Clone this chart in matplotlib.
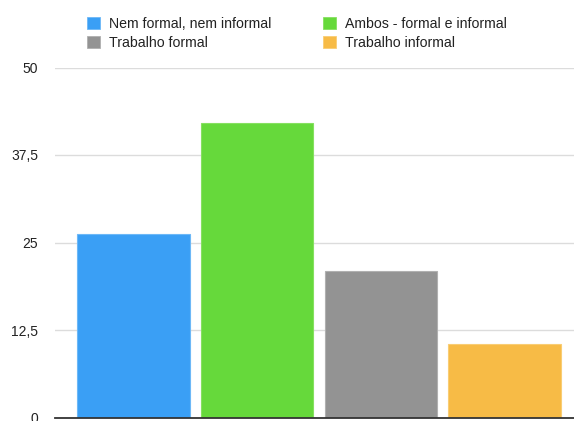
import matplotlib
matplotlib.use('Agg')
import matplotlib.pyplot as plt
from matplotlib.patches import Patch
from matplotlib.ticker import FixedLocator, FixedFormatter

plt.rcParams['font.family'] = ['Liberation Sans', 'DejaVu Sans']

categories = ['Nem formal, nem informal', 'Ambos - formal e informal',
              'Trabalho formal', 'Trabalho informal']
values = [26.2, 42.1, 21.0, 10.5]
colors = ['#3a9ff5', '#66d93b', '#939393', '#f7bb46']
edges = ['#6db8f7', '#86e060', '#b0b0b0', '#f9cd74']
yticks = [0, 12.5, 25, 37.5, 50]
ytick_labels = ['0', '12,5', '25', '37,5', '50']

fig = plt.figure(figsize=(5.74, 4.21), dpi=100)
ax = fig.add_axes([55 / 574, 3.5 / 421, 519 / 574, 350 / 421])

x = range(len(values))
ax.bar(x, values, width=0.909, color=colors, edgecolor=edges, linewidth=0.8, zorder=2)

ax.set_xlim(-0.635, 3.562)
ax.set_ylim(0, 50)
ax.yaxis.set_major_locator(FixedLocator(yticks))
ax.yaxis.set_major_formatter(FixedFormatter(ytick_labels))
ax.set_xticks([])
ax.tick_params(axis='y', length=0, pad=12, labelsize=10, labelcolor='#222222')
ax.grid(axis='y', color='#dcdcdc', linewidth=1.0, zorder=0)
for side in ['top', 'right', 'left']:
    ax.spines[side].set_visible(False)
ax.spines['bottom'].set_color('#333333')
ax.spines['bottom'].set_linewidth(1.3)
ax.spines['bottom'].set_zorder(3)

# legend fills column-wise, so order handles for row-major look
order = [0, 2, 1, 3]
handles = [Patch(facecolor=colors[i], edgecolor=edges[i], linewidth=0.6) for i in order]
labels = [categories[i] for i in order]
fig.legend(handles, labels, ncol=2, frameon=False, loc='upper left',
           bbox_to_anchor=(81 / 574, 1 - 11 / 421), fontsize=10.2,
           handlelength=0.95, handleheight=0.95, handletextpad=0.65,
           columnspacing=3.6, labelspacing=0.38, borderaxespad=0,
           labelcolor='#222222')

fig.savefig('out.png', dpi=100)
